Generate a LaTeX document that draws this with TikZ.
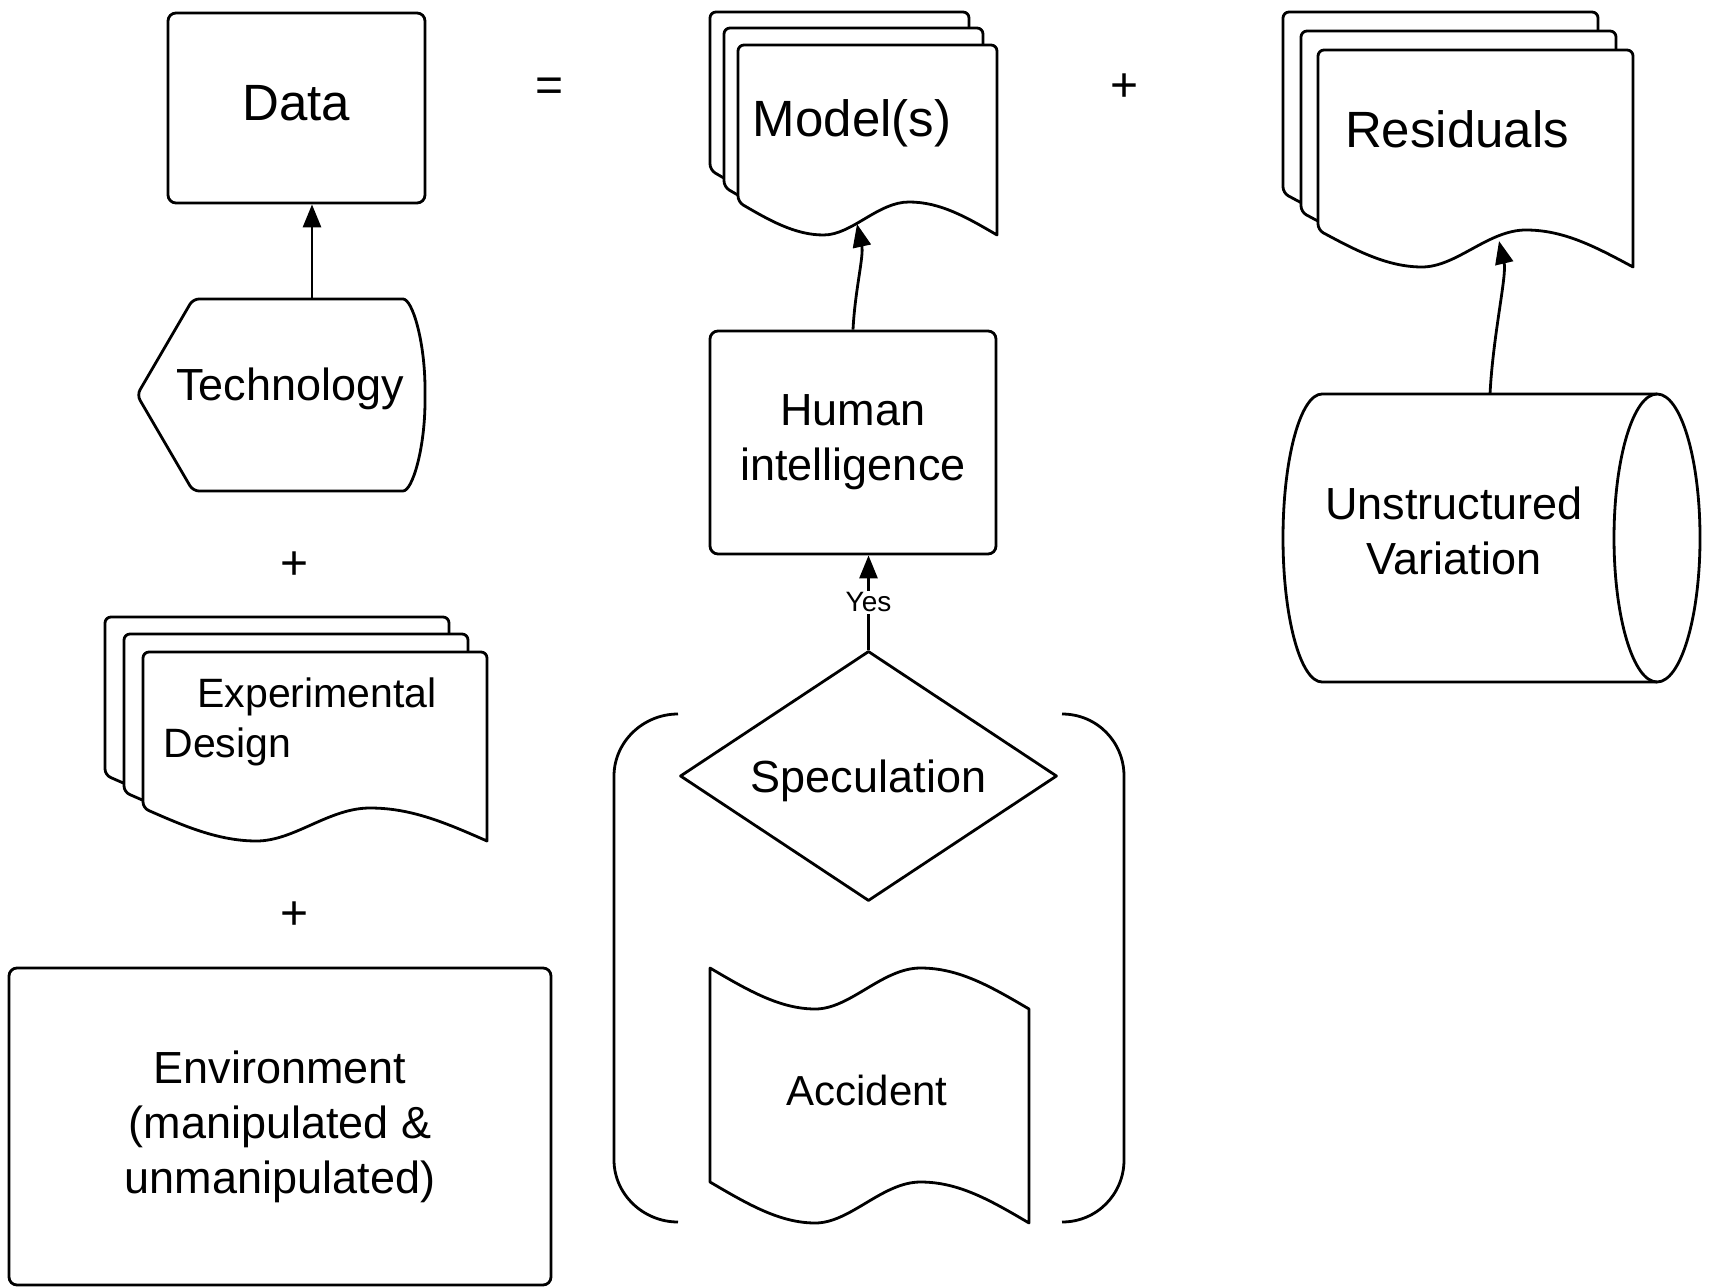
\documentclass[tikz,border=0pt]{standalone}
\usepackage{fontspec}
\setmainfont{Liberation Sans}
\usetikzlibrary{shapes.geometric,arrows.meta}
% wave from (x0,y0) to (x0+W,y0+A): #1=x0 #2=y0 #3=W #4=A
\newcommand\wavefw[4]{.. controls ({#1+0.12*#3},{#2+0.55*#4}) and ({#1+0.22*#3},{#2+#4}) .. ({#1+0.33*#3},{#2+#4}) .. controls ({#1+0.44*#3},{#2+#4}) and ({#1+0.54*#3},{#2}) .. ({#1+0.66*#3},{#2}) .. controls ({#1+0.78*#3},{#2}) and ({#1+0.88*#3},{#2+0.45*#4}) .. ({#1+#3},{#2+#4})}
\newcommand\wavebw[4]{.. controls ({#1+0.88*#3},{#2+0.45*#4}) and ({#1+0.78*#3},{#2}) .. ({#1+0.66*#3},{#2}) .. controls ({#1+0.54*#3},{#2}) and ({#1+0.44*#3},{#2+#4}) .. ({#1+0.33*#3},{#2+#4}) .. controls ({#1+0.22*#3},{#2+#4}) and ({#1+0.12*#3},{#2+0.55*#4}) .. ({#1},{#2})}
% document sheet: #1=x0 #2=top #3=W #4=H (left height) #5=A
\newcommand\docsheet[5]{\filldraw[shp] ({#1+#3},{#2+#4+#5}) [rounded corners=3pt] -- ({#1+#3},{#2}) -- ({#1},{#2}) -- ({#1},{#2+#4}) [sharp corners] \wavefw{#1}{#2+#4}{#3}{#5} -- cycle;}
\tikzset{
  shp/.style={draw=black, line width=1.4pt, fill=white, line join=round},
  arr/.style={draw=black, line width=1.4pt, -{Triangle[length=11.5pt,width=9pt]}},
  bigtxt/.style={font=\fontsize{25.5pt}{30pt}\selectfont, inner sep=0pt},
  midtxt/.style={font=\fontsize{22.5pt}{27.5pt}\selectfont, align=center, inner sep=0pt},
  opsign/.style={font=\fontsize{24pt}{28pt}\selectfont, inner sep=0pt},
  smalltxt/.style={font=\fontsize{14pt}{16pt}\selectfont, fill=white, inner sep=1pt}
}
\begin{document}
\begin{tikzpicture}[x=0.5pt, y=-0.5pt]
\useasboundingbox (0,0) rectangle (1711,1288);
\fill[white] (0,0) rectangle (1711,1288);

% Data
\node[shp, rounded corners=4pt, minimum width=128.5pt, minimum height=95pt, bigtxt, text depth=5.5pt] (data) at (296.5,108) {Data};

% Technology (display shape)
\filldraw[shp, rounded corners=3pt] (397,299) .. controls (412.5,299) and (425,342) .. (425,395) .. controls (425,448) and (412.5,491) .. (397,491) -- (193,491) -- (137,395) -- (193,299) -- cycle;
\node[midtxt, anchor=base] (tech) at (290,401) {Technology};
\coordinate (techtop) at (312,299);

% operators
\node[opsign] (eq) at (550,90) {=};
\node[opsign] (plusA) at (1124,88) {+};
\node[opsign] (plusB) at (295,566) {+};
\node[opsign] (plusC) at (295,916) {+};

% Experimental design stack
\docsheet{105}{617}{344}{158}{33}
\docsheet{124}{634}{344}{158}{33}
\docsheet{143}{652}{344}{156}{33}
\node[font=\fontsize{20.5pt}{25pt}\selectfont, align=left, anchor=north west, inner sep=0pt] (ed) at (163,677) {\hspace*{17pt}Experimental\\Design};

% Environment
\node[shp, rounded corners=4pt, minimum width=271pt, minimum height=158.5pt, midtxt] (env) at (280,1126.5) {Environment\\(manipulated \&\\unmanipulated)};

% Models stack
\docsheet{710}{12}{259}{158}{33}
\docsheet{724}{28}{259}{159}{33}
\docsheet{738}{45}{259}{157}{33}
\node[bigtxt, anchor=base] (models) at (852,137) {Model(s)};
\coordinate (modtip) at (857,224);

% Residuals stack
\docsheet{1283}{12}{315}{181}{37}
\docsheet{1301}{31}{315}{181}{37}
\docsheet{1318}{50}{315}{180}{37}
\node[bigtxt, anchor=base] (resid) at (1457,148) {Residuals};
\coordinate (restip) at (1499,241);

% Human intelligence
\node[shp, rounded corners=4pt, minimum width=143pt, minimum height=111.5pt, midtxt] (hi) at (853,442.5) {Human\\intelligence};

% Speculation
\node[shp, diamond, shape aspect=1.5, minimum width=188.5pt, minimum height=125pt, midtxt, text height=21pt] (spec) at (868.5,776) {Speculation};

% Accident (tape)
\filldraw[shp] (710,968) \wavefw{710}{968}{319}{41} -- (1029,1223) \wavebw{710}{1182}{319}{41} -- cycle;
\node[font=\fontsize{21pt}{25pt}\selectfont, inner sep=0pt, anchor=base] (acc) at (867,1105) {Accident};

% brackets
\draw[line width=1.4pt] (678,714) .. controls (643,714) and (614,742) .. (614,776) -- (614,1160) .. controls (614,1194) and (643,1222) .. (678,1222);
\draw[line width=1.4pt] (1062,714) .. controls (1097,714) and (1124,742) .. (1124,776) -- (1124,1160) .. controls (1124,1194) and (1097,1222) .. (1062,1222);

% Unstructured variation (horizontal cylinder)
\filldraw[shp] (1657,394) -- (1322,394) .. controls (1300.5,394) and (1283,458.5) .. (1283,538) .. controls (1283,617.5) and (1300.5,682) .. (1322,682) -- (1657,682) .. controls (1680.7,682) and (1700,617.5) .. (1700,538) .. controls (1700,458.5) and (1680.7,394) .. cycle;
\draw[line width=1.4pt] (1657,394) .. controls (1633.3,394) and (1614,458.5) .. (1614,538) .. controls (1614,617.5) and (1633.3,682) .. (1657,682);
\node[midtxt] (uv) at (1454,531) {Unstructured\\Variation};
\coordinate (uvtop) at (1490,394);

% connectors
\draw[arr] (techtop) -- (techtop |- data.south);
\draw[arr] (hi.north) .. controls (855,290) and (864,256) .. (modtip);
\draw[arr] (uvtop) .. controls (1493,335) and (1507,275) .. (restip);
\draw[arr] (spec.north) -- node[smalltxt] (yes) {Yes} (spec.north |- hi.south);
\end{tikzpicture}
\end{document}
